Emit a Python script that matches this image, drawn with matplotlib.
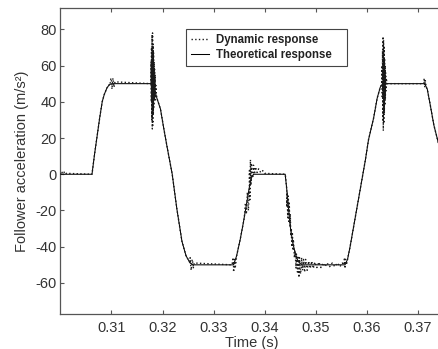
import matplotlib
matplotlib.use("Agg")
import matplotlib.pyplot as plt
import numpy as np

plt.rcParams['font.family'] = ['Liberation Sans', 'DejaVu Sans']
plt.rcParams['axes.unicode_minus'] = False

# Theoretical response (time s, acceleration m/s^2)
theory_t = [0.3000, 0.3062, 0.3067, 0.3072, 0.3077, 0.3082, 0.3086, 0.3091, 0.3096, 0.3101,
            0.3180, 0.3184, 0.3189, 0.3196, 0.3202, 0.3209, 0.3219, 0.3228, 0.3238, 0.3246, 0.3254, 0.3260,
            0.3339, 0.3345, 0.3352, 0.3358, 0.3364, 0.3370, 0.3374, 0.3378,
            0.3440, 0.3443, 0.3447, 0.3450, 0.3455, 0.3460, 0.3465, 0.3472,
            0.3557, 0.3562, 0.3567, 0.3577, 0.3587, 0.3597, 0.3603, 0.3613, 0.3620, 0.3626, 0.3631,
            0.3713, 0.3718, 0.3724, 0.3731, 0.3740]
theory_a = [0, 0, 11, 21, 31, 40, 44, 47.5, 49.5, 50,
            50, 47, 42, 36, 26, 15, 0, -19, -37, -45, -49, -50,
            -50, -45, -36, -27, -17, -7, -2, 0,
            0, -8, -20, -29, -38, -44, -48, -50,
            -50, -47, -40, -24, -8, 8, 19, 31, 42, 48, 50,
            50, 47, 38, 27, 17]

# Dynamic response: departures from the theoretical curve (oscillation bursts)
dyn_t = [0.3001, 0.3003, 0.3005, 0.3007, 0.3009, 0.3012,
         0.3097, 0.3099, 0.3101, 0.3103, 0.3105, 0.3107,
         0.31770, 0.31775, 0.31780, 0.31785, 0.31790, 0.31795, 0.31800, 0.31805, 0.31810, 0.31815,
         0.31820, 0.31825, 0.31830, 0.31835, 0.31840, 0.31845, 0.31850, 0.31855, 0.31860, 0.31870, 0.31880,
         0.3252, 0.3254, 0.3256, 0.3258, 0.3260, 0.3262,
         0.3336, 0.3338, 0.3339, 0.3341, 0.3342, 0.3344,
         0.3360, 0.3362, 0.3364, 0.3366, 0.3368, 0.3370, 0.3371, 0.3372, 0.3373, 0.3374, 0.3376,
         0.3378, 0.3380, 0.3382, 0.3385, 0.3388, 0.3392, 0.3396, 0.3400,
         0.3441, 0.3443, 0.3444, 0.3445, 0.3446, 0.3447, 0.3448, 0.3449, 0.3450, 0.3451, 0.3452,
         0.3453, 0.3454, 0.3455, 0.3456, 0.3458, 0.3459, 0.3461, 0.3462, 0.3464, 0.3465, 0.3467,
         0.3468, 0.3470, 0.3472, 0.3474, 0.3476, 0.3478, 0.3480, 0.3483, 0.3486, 0.3489, 0.3492,
         0.3495, 0.3498, 0.3502, 0.3506, 0.3510, 0.3514, 0.3518, 0.3522, 0.3527, 0.3532, 0.3537,
         0.3542, 0.3547, 0.3552,
         0.3555, 0.3556, 0.3557, 0.3558, 0.3560,
         0.36290, 0.36295, 0.36300, 0.36305, 0.36310, 0.36315, 0.36320, 0.36325, 0.36330, 0.36335,
         0.36340, 0.36345, 0.36350, 0.36355, 0.36360, 0.36365, 0.36370, 0.36380, 0.36390,
         0.3711, 0.3712, 0.3713, 0.3714, 0.3716]
dyn_a = [0, 1.5, -0.5, 1.5, 0, 0.5,
         49, 53, 47, 53, 48, 51,
         50, 62, 40, 70, 30, 77, 25, 78, 27, 72,
         33, 67, 37, 62, 41, 58, 43, 55, 41, 49, 44,
         -48, -46, -53, -47, -52, -49,
         -50, -46, -54, -47, -52, -48,
         -24, -16, -22, -10, -20, 2, -14, 8, -6, 6, -2,
         5, 0, 4, 1, 3, 1, 2, 0.5,
         -2, -18, -10, -24, -12, -26, -16, -28, -22, -34, -30,
         -40, -32, -42, -36, -46, -42, -52, -44, -54, -45, -57,
         -46, -55, -46, -53, -47, -54, -47, -53, -48, -52, -48,
         -52, -48.5, -51.5, -48.5, -51.5, -49, -51, -49, -51, -49, -51,
         -49, -51, -49,
         -50, -46, -52, -47, -50,
         50, 60, 42, 68, 30, 76, 24, 74, 28, 70,
         34, 64, 38, 60, 42, 56, 46, 53, 50,
         50, 53, 48, 52, 48]

xticks = [0.31, 0.32, 0.33, 0.34, 0.35, 0.36, 0.37]
yticks = [-60, -40, -20, 0, 20, 40, 60, 80]

W, H = 438, 349
fig = plt.figure(figsize=(W / 100, H / 100), dpi=100)
ax = fig.add_axes([60.3 / W, (H - 314.3) / H, (W - 60.3) / W, (314.3 - 8.3) / H])

# Dynamic series = theoretical curve with oscillation bursts merged in time order
all_t = np.array(theory_t + dyn_t)
all_a = np.array(theory_a + dyn_a)
order = np.argsort(all_t, kind='stable')
ax.plot(all_t[order], all_a[order], linestyle=':', color='#1a1a1a', lw=1.0,
        label='Dynamic response', zorder=3)
ax.plot(theory_t, theory_a, linestyle='-', color='black', lw=0.75,
        label='Theoretical response', zorder=2)

ax.set_xlim(0.3, 0.3739)
ax.set_ylim(-77.3, 91.6)
ax.set_xticks(xticks)
ax.set_xticklabels(['%.2f' % v for v in xticks])
ax.set_yticks(yticks)
ax.set_yticklabels(['%d' % v for v in yticks])

for s in ['left', 'bottom', 'top']:
    ax.spines[s].set_color('#555555')
    ax.spines[s].set_linewidth(0.9)
ax.spines['right'].set_visible(False)
ax.tick_params(direction='in', length=3, width=0.8, colors='#555555',
               top=True, right=False, labelsize=10.5, labelcolor='#333333')
ax.tick_params(axis='x', pad=5)
ax.tick_params(axis='y', pad=2.5)

ax.set_xlabel('Time (s)', fontsize=10.5, color='#333333')
ax.xaxis.set_label_coords((252 - 60.3) / (W - 60.3), -0.072)
ax.set_ylabel('Follower acceleration (m/s²)', fontsize=10.5, color='#333333', labelpad=5)

leg = ax.legend(loc='upper left', bbox_to_anchor=(0.333, 0.820, 0.426, 0.111),
                mode='expand', borderaxespad=0, fancybox=False, framealpha=1,
                edgecolor='#444444', prop={'weight': 'bold', 'size': 8.3},
                handlelength=1.6, handletextpad=0.6, borderpad=0.4, labelspacing=0.3)
leg.get_frame().set_linewidth(0.8)
for t in leg.get_texts():
    t.set_color('#222222')

fig.savefig('out.png', dpi=100)
